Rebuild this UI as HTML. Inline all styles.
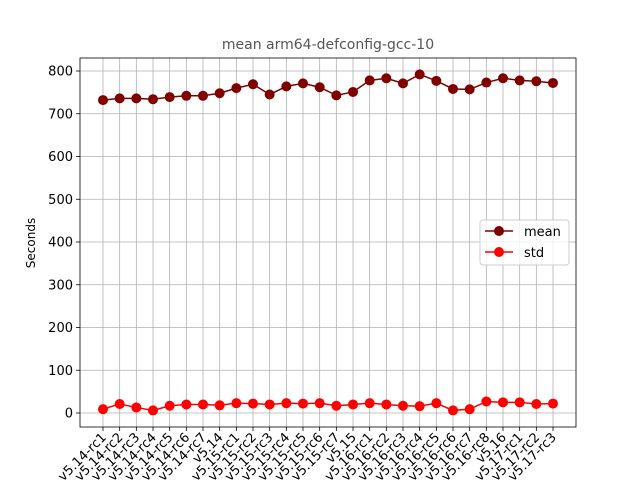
<!DOCTYPE html>
<html><head><meta charset="utf-8"><style>
html,body{margin:0;padding:0;background:#fff;width:640px;height:480px;overflow:hidden}
text{font-family:"DejaVu Sans","Liberation Sans",sans-serif}
</style></head><body>
<svg id="chart" width="640" height="480" viewBox="0 0 640 480" xmlns="http://www.w3.org/2000/svg">
<rect x="0" y="0" width="640" height="480" fill="#fff"/>
<text x="328" y="49" font-size="14" fill="#555" text-anchor="middle">mean arm64-defconfig-gcc-10</text>
<text transform="translate(35,243) rotate(-90)" font-size="12" text-anchor="middle">Seconds</text>
<g id="grid"></g><g id="axes"></g><g id="series"></g>
<g>
<rect x="480" y="220" width="89" height="45" rx="3" fill="#fff" fill-opacity="0.8" stroke="#ccc"/>
<line x1="485" y1="231" x2="513" y2="231" stroke="#800000" stroke-width="1.5"/>
<circle cx="499" cy="231" r="5" fill="#800000"/>
<text x="524" y="236" font-size="13">mean</text>
<line x1="485" y1="252" x2="513" y2="252" stroke="#ff0000" stroke-width="1.5"/>
<circle cx="499" cy="252" r="5" fill="#ff0000"/>
<text x="524" y="257" font-size="13">std</text>
</g>
</svg>
<script>
const categories=["v5.14-rc1","v5.14-rc2","v5.14-rc3","v5.14-rc4","v5.14-rc5","v5.14-rc6","v5.14-rc7","v5.14","v5.15-rc1","v5.15-rc2","v5.15-rc3","v5.15-rc4","v5.15-rc5","v5.15-rc6","v5.15-rc7","v5.15","v5.16-rc1","v5.16-rc2","v5.16-rc3","v5.16-rc4","v5.16-rc5","v5.16-rc6","v5.16-rc7","v5.16-rc8","v5.16","v5.17-rc1","v5.17-rc2","v5.17-rc3"];
const meanValues=[732,736,736,734,739,742,742,748,760,769,745,764,771,762,743,751,778,783,771,792,777,758,757,773,783,778,776,772];
const stdValues=[9,21,13,6,17,20,20,18,23,22,20,23,22,23,17,20,23,20,17,16,23,6,9,27,25,25,21,22];
const yTicks=[0,100,200,300,400,500,600,700,800];
const NS="http://www.w3.org/2000/svg";
const L=80,R=576,T=58,B=427;
const x0=103,x1=553;
function xs(i){return x0+(x1-x0)*i/(categories.length-1);}
function ys(v){return 413-v*(413-71)/800;}
function mk(tag,attrs,parent){const e=document.createElementNS(NS,tag);for(const k in attrs)e.setAttribute(k,attrs[k]);parent.appendChild(e);return e;}
const grid=document.getElementById('grid'),axes=document.getElementById('axes'),series=document.getElementById('series');
categories.forEach((c,i)=>{
  const g=mk('line',{x1:xs(i),x2:xs(i),y1:T,y2:B,stroke:'#b0b0b0','stroke-width':0.8},grid);
  
  
  mk('line',{x1:xs(i),x2:xs(i),y1:B,y2:B+4,stroke:'#000','stroke-width':0.8},axes);
  const t=mk('text',{x:xs(i)+4,y:B+11,'font-size':13,'text-anchor':'end',transform:`rotate(-45 ${xs(i)+4} ${B+11})`},axes);
  
  
  t.textContent=c;
});
yTicks.forEach(v=>{
  const g=mk('line',{x1:L,x2:R,y1:ys(v),y2:ys(v),stroke:'#b0b0b0','stroke-width':0.8},grid);
  
  
  mk('line',{x1:L-4,x2:L,y1:ys(v),y2:ys(v),stroke:'#000','stroke-width':0.8},axes);
  const t=mk('text',{x:L-7,y:ys(v)+4.5,'font-size':13,'text-anchor':'end'},axes);
  
  
  t.textContent=v;
});
const frame=mk('rect',{x:L,y:T,width:R-L,height:B-T,fill:'none',stroke:'#000','stroke-width':0.8},axes);


function drawSeries(vals,color,name){
  const p=mk('polyline',{points:vals.map((v,i)=>xs(i)+','+ys(v)).join(' '),fill:'none',stroke:color,'stroke-width':1.5},series);
  
  
  vals.forEach((v,i)=>{
    const c=mk('circle',{cx:xs(i),cy:ys(v),r:5,fill:color},series);
    
    
  });
}
drawSeries(meanValues,'#800000','mean');
drawSeries(stdValues,'#ff0000','std');
</script>
</body></html>
